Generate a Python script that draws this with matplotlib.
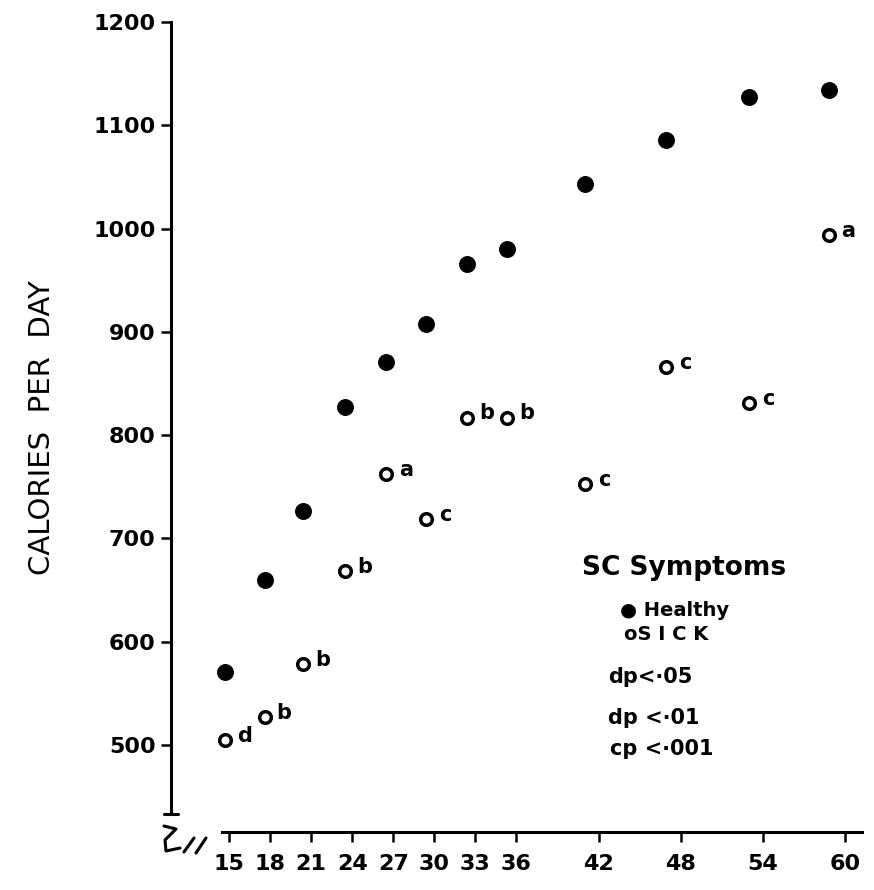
import matplotlib
matplotlib.use("Agg")
import matplotlib.pyplot as plt

# ---------------- data ----------------
age = [14.7, 17.6, 20.4, 23.5, 26.5, 29.4, 32.4, 35.3, 41.0, 46.9, 53.0, 58.8]
healthy = [571, 660, 727, 827, 871, 908, 966, 980, 1043, 1086, 1127, 1134]
sick = [505, 527, 578, 668, 762, 719, 817, 817, 753, 866, 831, 994]
sick_sig = ["d", "b", "b", "b", "a", "c", "b", "b", "c", "c", "c", "a"]
x_ticks = [15, 18, 21, 24, 27, 30, 33, 36, 42, 48, 54, 60]
y_ticks = [500, 600, 700, 800, 900, 1000, 1100, 1200]
y_title = "CALORIES  PER  DAY"
legend_title = "SC Symptoms"
legend_healthy = "\u25cf Healthy"
legend_sick = "oS I C K"
legend_lines = ["dp<\u00b705", "dp <\u00b701", "cp <\u00b7001"]

# ---------------- layout ----------------
W, H = 874, 890
fig = plt.figure(figsize=(W / 100, H / 100), dpi=100)
plt.rcParams["font.family"] = ["DejaVu Sans"]

ax_l, ax_r, ax_t, ax_b = 171, 862, 22, 832          # axes box in pixels
x15_px, x60_px = 229, 845                            # tick pixels
y500_px, y1200_px = 745, 22
ppx = (x60_px - x15_px) / 45.0
ppy = (y500_px - y1200_px) / 700.0
xlim = (15 - (x15_px - ax_l) / ppx, 60 + (ax_r - x60_px) / ppx)
ylim = (500 - (ax_b - y500_px) / ppy, 1200)

ax = fig.add_axes([ax_l / W, (H - ax_b) / H, (ax_r - ax_l) / W, (ax_b - ax_t) / H])
ax.set_xlim(*xlim)
ax.set_ylim(*ylim)

for s in ("top", "right"):
    ax.spines[s].set_visible(False)
for s in ("left", "bottom"):
    ax.spines[s].set_linewidth(2.2)
ax.spines["left"].set_bounds(500 - (814 - y500_px) / ppy, 1200)
ax.spines["bottom"].set_bounds(15 - (x15_px - 222) / ppx, xlim[1])

ax.set_xticks(x_ticks)
ax.set_xticklabels([str(v) for v in x_ticks])
ax.set_yticks(y_ticks)
ax.set_yticklabels([str(v) for v in y_ticks])
ax.tick_params(axis="x", direction="out", length=7, width=1.8, pad=9,
               labelsize=16)
ax.tick_params(axis="y", direction="out", length=7, width=1.8, pad=4,
               labelsize=16)
for lab in ax.get_xticklabels() + ax.get_yticklabels():
    lab.set_fontweight("bold")

# axis break decoration (axes-fraction coordinates)
def fx(px):
    return (px - ax_l) / (ax_r - ax_l)

def fy(py):
    return (ax_b - py) / (ax_b - ax_t)

deco = dict(transform=ax.transAxes, color="black", lw=2.2, clip_on=False,
            solid_capstyle="round")
ax.plot([fx(164), fx(178)], [fy(814), fy(814)], **deco)
ax.plot([fx(164), fx(176), fx(165), fx(166), fx(180)],
        [fy(826), fy(829), fy(840), fy(851), fy(848)], **deco)
ax.plot([fx(184), fx(194)], [fy(852), fy(838)], **deco)
ax.plot([fx(196), fx(206)], [fy(853), fy(838)], **deco)

# ---------------- marks ----------------
ax.scatter(age, healthy, s=125, color="black", zorder=3, clip_on=False)
ax.scatter(age, sick, s=70, facecolor="white", edgecolor="black",
           linewidth=2.5, zorder=3, clip_on=False)
for xv, yv, lab in zip(age, sick, sick_sig):
    ax.annotate(lab, (xv, yv), xytext=(14, 3), textcoords="offset points",
                ha="center", va="center", fontsize=15, fontweight="bold")

# ---------------- texts ----------------
def fig_xy(px, py):
    return px / W, (H - py) / H

fig.text(*fig_xy(42, 428), y_title, rotation=90, ha="center", va="center",
         fontsize=21)

fig.text(*fig_xy(582, 568), legend_title, ha="left", va="center",
         fontsize=19, fontweight="bold")
fig.text(*fig_xy(620, 611), legend_healthy, ha="left", va="center",
         fontsize=14, fontweight="bold")
fig.text(*fig_xy(624, 635), legend_sick, ha="left", va="center",
         fontsize=14, fontweight="bold")
fig.text(*fig_xy(608, 677), legend_lines[0], ha="left", va="center",
         fontsize=15, fontweight="bold")
fig.text(*fig_xy(608, 718), legend_lines[1], ha="left", va="center",
         fontsize=15, fontweight="bold")
fig.text(*fig_xy(610, 749), legend_lines[2], ha="left", va="center",
         fontsize=15, fontweight="bold")

fig.savefig("out.png", dpi=100, facecolor="white")
